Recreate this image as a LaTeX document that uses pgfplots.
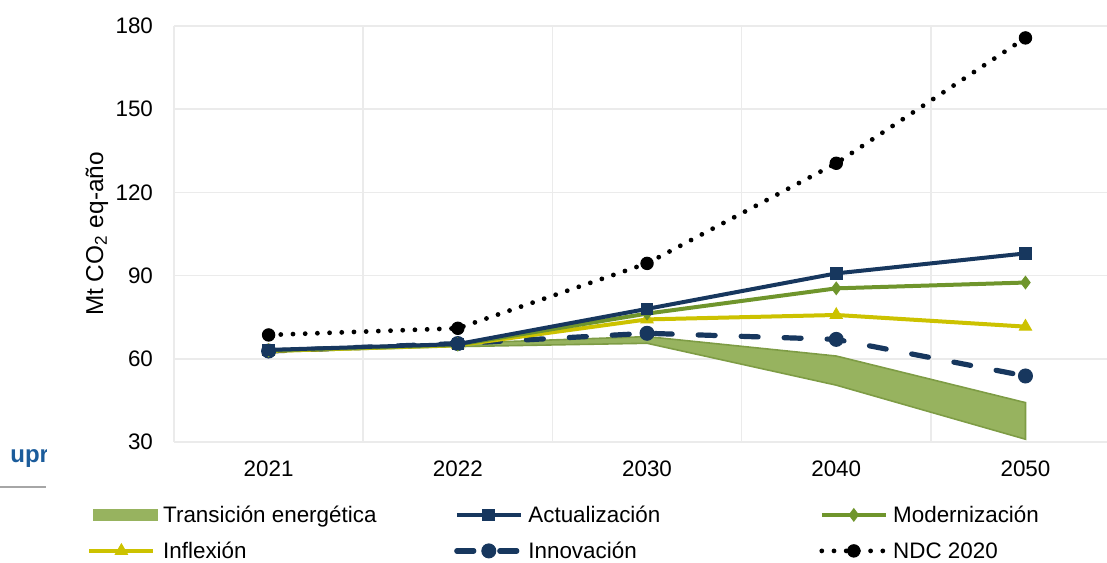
\documentclass[border=0pt]{standalone}
\usepackage{fontspec}
\setmainfont{Liberation Sans}
\usepackage{pgfplots}
\pgfplotsset{compat=1.18}
\definecolor{navy}{HTML}{17375E}
\definecolor{olive}{HTML}{6F952C}
\definecolor{yel}{HTML}{CCC200}
\definecolor{bandfill}{HTML}{97B35F}
\definecolor{bandedge}{HTML}{7E9C45}
\definecolor{gridc}{HTML}{EBEBEB}
\definecolor{logoblue}{HTML}{1B5C9B}
\pgfplotsset{
  innov/.style={navy, line width=2.6pt, line cap=round, dash pattern=on 8.5pt off 13pt, mark=*, mark size=3.5pt, mark options={solid, line width=0.5pt}},
  actu/.style={navy, line width=2pt, mark=square*, mark size=2.9pt, mark options={line width=0.5pt}},
  mode/.style={olive, line width=2pt, mark=diamond*, mark size=3.1pt, mark options={line width=0.5pt}},
  infl/.style={yel, line width=2pt, mark=triangle*, mark size=3.5pt, mark options={line width=0.5pt}},
}
\begin{document}
\begin{tikzpicture}
\begin{axis}[name=ax, scale only axis, width=466.5pt, height=208pt,
  xmin=-0.5, xmax=4.431, ymin=30, ymax=180,
  xtick={0,1,2,3,4}, xticklabels={2021,2022,2030,2040,2050},
  minor xtick={-0.5,0.5,1.5,2.5,3.5},
  ytick={30,60,90,120,150,180},
  xminorgrids=true, ymajorgrids=true, xmajorgrids=false,
  major grid style={draw=gridc, line width=0.75pt},
  minor grid style={draw=gridc, line width=0.75pt},
  axis line style={draw=none}, major tick length=0pt, minor tick length=0pt,
  tick label style={font=\fontsize{11.2}{13}\selectfont},
  /pgf/number format/assume math mode=true,
  yticklabel style={xshift=-7pt},
  xticklabel style={yshift=-6pt},
  ylabel={Mt CO\textsubscript{2} eq-año},
  ylabel style={at={(axis description cs:-0.0825,0.5)}, anchor=center, font=\fontsize{12.2}{14}\selectfont},
  legend columns=3,
  legend cell align=left,
  legend style={at={(axis description cs:0,0)}, anchor=north west, xshift=-43.5pt, yshift=-32pt,
    draw=none, fill=none, inner sep=0pt, column sep=2.5pt, row sep=9.5pt,
    nodes={inner sep=0pt, text height=8pt, text depth=0.5pt},
    font=\fontsize{11.2}{13}\selectfont},
  legend image code/.code={\draw[mark repeat=2,mark phase=2,#1] plot coordinates {(0pt,0pt) (16pt,0pt) (32pt,0pt)};},
]
% Transición energética (band)
\addplot[fill=bandfill, draw=bandedge, line width=0.8pt,
  legend image code/.code={\fill[bandfill] (2pt,-2.75pt) rectangle (34pt,2.75pt);}]
  coordinates {(0,63.3) (1,65.6) (2,68.0) (3,61.0) (4,44.2) (4,31.0) (3,50.5) (2,65.6) (1,64.4) (0,62.4)} -- cycle;
\addlegendentry{\makebox[143pt][l]{Transición energética}}
% lines, drawn bottom to top
\addplot[innov, forget plot]
  coordinates {(0,62.8) (1,65.5) (2,69.2) (3,67.0) (4,53.8)};
\addplot[infl, forget plot]
  coordinates {(0,62.8) (1,64.9) (2,74.2) (3,75.8) (4,71.6)};
\addplot[mode, forget plot]
  coordinates {(0,63.0) (1,65.1) (2,76.3) (3,85.4) (4,87.5)};
\addplot[actu, forget plot]
  coordinates {(0,63.2) (1,65.3) (2,78.0) (3,90.8) (4,98.0)};
% legend entries in the reference's order
\addlegendimage{actu}
\addlegendentry{\makebox[143pt][l]{Actualización}}
\addlegendimage{mode}
\addlegendentry{\makebox[143pt][l]{Modernización}}
\addlegendimage{infl}
\addlegendentry{\makebox[143pt][l]{Inflexión}}
\addlegendimage{innov}
\addlegendentry{\makebox[143pt][l]{Innovación}}
% NDC 2020
\addplot[black, line width=2.4pt, line cap=round, dash pattern=on 0pt off 6.1pt, mark=*, mark size=3.1pt, mark options={solid, line width=0.5pt}]
  coordinates {(0,68.6) (1,71.0) (2,94.4) (3,130.5) (4,175.7)};
\addlegendentry{\makebox[143pt][l]{NDC 2020}}
\end{axis}
\begin{scope}
  \clip ([xshift=-87pt,yshift=-2pt]ax.south west) rectangle ([xshift=-63.5pt,yshift=-16pt]ax.south west);
  \node[anchor=base west, inner sep=0pt, text=logoblue, font=\bfseries\fontsize{12}{14}\selectfont] at ([xshift=-82pt,yshift=-10pt]ax.south west) {upr};
\end{scope}
\draw[draw={rgb,255:red,166;green,166;blue,166}, line width=1pt] ([xshift=-87pt,yshift=-22.5pt]ax.south west) -- ([xshift=-64pt,yshift=-22.5pt]ax.south west);
\pgfresetboundingbox
\useasboundingbox ([xshift=-87pt,yshift=-60pt]ax.south west) rectangle ([yshift=13pt]ax.north east);
\end{tikzpicture}
\end{document}
